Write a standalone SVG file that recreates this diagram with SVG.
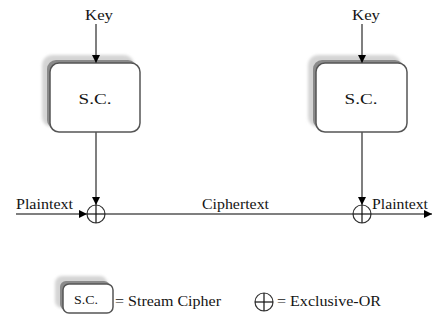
<svg xmlns="http://www.w3.org/2000/svg" width="432" height="320" viewBox="0 0 432 320">
  <defs>
    <filter id="soft" x="-20%" y="-20%" width="140%" height="140%">
      <feGaussianBlur stdDeviation="1.6"/>
    </filter>
    <marker id="arrow" viewBox="0 0 10 10" refX="10" refY="5" markerWidth="8" markerHeight="8" markerUnits="userSpaceOnUse" orient="auto">
      <path d="M0,0 L10,5 L0,10 Z" fill="#000"/>
    </marker>
  </defs>
  <style>
    text { font-family: "Liberation Serif", "DejaVu Serif", "Times New Roman", serif; fill: #141414; }
    .lbl { font-size: 15px; }
    .big { font-size: 15px; }
    .box { fill: #fff; stroke: #555; stroke-width: 1.5; }
    .halo { fill: #d4d4d4; filter: url(#soft); }
    .shadow { fill: #8a8a8a; }
    .wire { fill: none; stroke: #555; stroke-width: 1.5; }
    .xor { fill: #fff; stroke: #333; stroke-width: 1.2; }
    .cross { stroke: #111; stroke-width: 1.2; }
  </style>

  <rect width="432" height="320" fill="#fff"/>

  <!-- sender stream cipher -->
  <g id="sc-left">
    <rect class="halo" x="42" y="55" width="92" height="72" rx="10"/>
    <rect class="shadow" x="47" y="60" width="90" height="69" rx="9"/>
    <rect class="box" x="50" y="63" width="90" height="69" rx="9"/>
    <text class="big" x="95" y="104" text-anchor="middle" textLength="33" lengthAdjust="spacingAndGlyphs">S.C.</text>
  </g>

  <!-- receiver stream cipher -->
  <g id="sc-right">
    <rect class="halo" x="308" y="55" width="93" height="72" rx="10"/>
    <rect class="shadow" x="313" y="60" width="91" height="69" rx="9"/>
    <rect class="box" x="316" y="63" width="91" height="69" rx="9"/>
    <text class="big" x="361" y="104" text-anchor="middle" textLength="33" lengthAdjust="spacingAndGlyphs">S.C.</text>
  </g>

  <!-- connectors -->
  <g id="connectors">
    <line class="wire" x1="96" y1="24" x2="96" y2="63" marker-end="url(#arrow)"/>
    <line class="wire" x1="96" y1="132" x2="96" y2="205" marker-end="url(#arrow)"/>
    <line class="wire" x1="16" y1="214" x2="87" y2="214" marker-end="url(#arrow)"/>
    <line class="wire" x1="105" y1="214" x2="353" y2="214"/>
    <line class="wire" x1="362" y1="24" x2="362" y2="63" marker-end="url(#arrow)"/>
    <line class="wire" x1="362" y1="132" x2="362" y2="205" marker-end="url(#arrow)"/>
    <line class="wire" x1="371" y1="214" x2="432" y2="214" marker-end="url(#arrow)"/>
  </g>

  <!-- key inputs -->
  <g id="key-left">
    <text class="big" x="99" y="20" text-anchor="middle" textLength="28" lengthAdjust="spacingAndGlyphs">Key</text>
  </g>
  <g id="key-right">
    <text class="big" x="366" y="20" text-anchor="middle" textLength="28" lengthAdjust="spacingAndGlyphs">Key</text>
  </g>

  <!-- sender XOR -->
  <g id="xor-left">
    <circle class="xor" cx="96" cy="214" r="9"/>
    <line class="cross" x1="87" y1="214" x2="105" y2="214"/>
    <line class="cross" x1="96" y1="205" x2="96" y2="223"/>
  </g>

  <!-- receiver XOR -->
  <g id="xor-right">
    <circle class="xor" cx="362" cy="214" r="9"/>
    <line class="cross" x1="353" y1="214" x2="371" y2="214"/>
    <line class="cross" x1="362" y1="205" x2="362" y2="223"/>
  </g>

  <!-- stream labels -->
  <g id="labels">
    <text class="lbl" x="16" y="209" textLength="57" lengthAdjust="spacingAndGlyphs">Plaintext</text>
    <text class="lbl" x="202" y="209" textLength="67" lengthAdjust="spacingAndGlyphs">Ciphertext</text>
    <text class="lbl" x="372" y="209" textLength="56" lengthAdjust="spacingAndGlyphs">Plaintext</text>
  </g>

  <!-- legend -->
  <g id="legend-sc">
    <rect class="halo" x="55" y="276" width="52" height="32" rx="7"/>
    <rect class="shadow" x="60" y="281" width="50" height="29" rx="6"/>
    <rect class="box" x="63" y="284" width="50" height="29" rx="6"/>
    <text x="86" y="304" font-size="12" text-anchor="middle" textLength="24" lengthAdjust="spacingAndGlyphs">S.C.</text>
    <text class="lbl" x="115" y="306" textLength="106" lengthAdjust="spacingAndGlyphs">= Stream Cipher</text>
  </g>
  <g id="legend-xor">
    <circle class="xor" cx="264" cy="302" r="9"/>
    <line class="cross" x1="255" y1="302" x2="273" y2="302"/>
    <line class="cross" x1="264" y1="293" x2="264" y2="311"/>
    <text class="lbl" x="277" y="306" textLength="104" lengthAdjust="spacingAndGlyphs">= Exclusive-OR</text>
  </g>
</svg>
